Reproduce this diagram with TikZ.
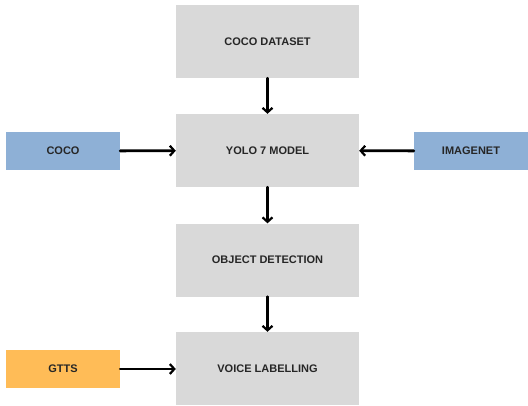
\documentclass[tikz,border=0pt]{standalone}
\usepackage{fontspec}
\setmainfont{Liberation Sans}
\usetikzlibrary{arrows.meta}

\begin{document}
\begin{tikzpicture}[x=1pt, y=-1pt, line cap=round, line join=round,
	stage/.style={fill=gray!30, minimum width=183pt, minimum height=73pt, inner sep=0pt, font=\bfseries\fontsize{11}{13}\selectfont, text=black!85},
	source/.style={minimum width=114pt, minimum height=38pt, inner sep=0pt, font=\bfseries\fontsize{11}{13}\selectfont, text=black!85},
	flow/.style={-{Straight Barb[length=4.5pt, width=10pt, line width=2.2pt]}, line width=2.8pt}]
	\useasboundingbox (0,0) rectangle (528,405);
	\clip (0,0) rectangle (528,405);
	\node[stage] (dataset) at (267.5,41.5) {COCO DATASET};
	\node[stage] (yolo) at (267.5,150.5) {YOLO 7 MODEL};
	\node[stage] (detect) at (267.5,260) {OBJECT DETECTION};
	\node[stage] (voice) at (267.5,368.5) {VOICE LABELLING};
	\node[source, fill={rgb,255:red,142;green,176;blue,214}] (coco) at (63,151) {COCO};
	\node[source, fill={rgb,255:red,142;green,176;blue,214}] (imagenet) at (471,151) {IMAGENET};
	\node[source, fill={rgb,255:red,255;green,188;blue,87}] (gtts) at (63,369) {GTTS};
	\draw[flow] (dataset) -- (yolo);
	\draw[flow] (yolo) -- (detect);
	\draw[flow] (detect) -- (voice);
	\draw[flow] (coco) -- (yolo);
	\draw[flow] (imagenet) -- (yolo);
	\draw[flow] (gtts) -- (gtts -| voice.west);
\end{tikzpicture}
\end{document}
